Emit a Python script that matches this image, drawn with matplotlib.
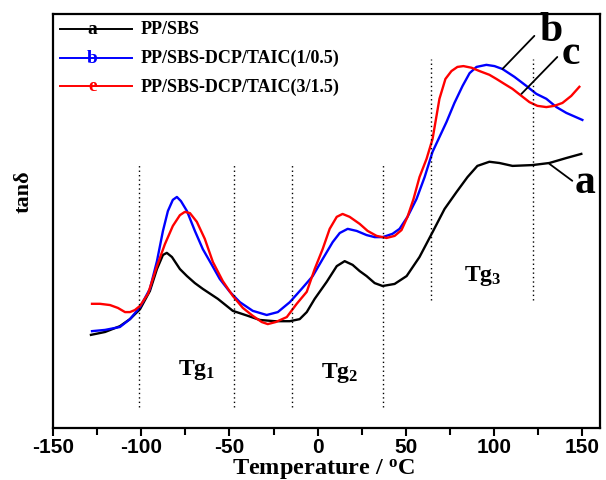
import matplotlib
matplotlib.use("Agg")
import matplotlib.pyplot as plt

plt.rcParams['font.family'] = ['Liberation Serif', 'DejaVu Serif']
plt.rcParams['mathtext.fontset'] = 'custom'
plt.rcParams['mathtext.rm'] = 'Liberation Serif:bold'
plt.rcParams['mathtext.bf'] = 'Liberation Serif:bold'
plt.rcParams['mathtext.it'] = 'Liberation Serif:bold'
plt.rcParams['axes.unicode_minus'] = False

# curve a: PP/SBS
temp_a = [-128.5, -120.5, -112.1, -106.4, -100.7, -95.1, -91.1, -87.7, -85.5, -82.6,
          -78.1, -74.1, -69.6, -65.1, -56.6, -48.1, -39.6, -32.8, -24.3, -15.8,
          -10.2, -6.2, -1.7, 5.1, 10.8, 15.3, 19.8, 23.8, 27.7, 32.3,
          36.8, 43.6, 50.4, 57.7, 65.1, 71.9, 78.7, 84.9, 90.5, 97.3,
          103.0, 110.4, 121.7, 131.3, 140.9, 149.4]
tan_a = [22.5, 23.2, 24.6, 26.3, 28.7, 33.1, 38.4, 41.8, 42.3, 41.3,
         38.4, 36.7, 35.0, 33.6, 31.2, 28.3, 27.1, 26.1, 25.8, 25.8,
         26.3, 28.0, 31.2, 35.3, 39.1, 40.3, 39.4, 37.9, 36.7, 35.0,
         34.3, 34.8, 36.7, 41.3, 47.3, 52.9, 57.0, 60.6, 63.3, 64.3,
         64.0, 63.3, 63.5, 64.0, 65.2, 66.2]

# curve b: PP/SBS-DCP/TAIC(1/0.5)
temp_b = [-127.9, -120.5, -112.1, -106.4, -100.7, -95.1, -91.1, -87.7, -84.9, -82.1,
          -79.8, -77.5, -74.1, -69.6, -65.1, -60.0, -55.5, -49.8, -44.1, -36.8,
          -28.9, -22.6, -15.8, -9.1, -2.8, 2.8, 8.5, 12.5, 17.0, 22.1,
          27.7, 32.3, 36.8, 42.4, 46.4, 50.9, 56.0, 60.6, 65.1, 73.0,
          77.5, 82.1, 86.1, 90.0, 95.6, 100.2, 104.7, 111.5, 118.3, 123.9,
          129.6, 135.3, 140.9, 150.0]
tan_b = [23.4, 23.7, 24.4, 26.3, 29.2, 33.6, 40.3, 47.6, 52.4, 55.1,
         55.8, 54.8, 52.4, 47.6, 43.2, 39.4, 36.0, 32.9, 30.4, 28.3,
         27.3, 28.0, 30.4, 33.6, 36.7, 40.8, 44.9, 47.1, 48.1, 47.6,
         46.6, 46.1, 46.1, 46.9, 48.1, 51.0, 55.3, 60.6, 66.7, 73.9,
         78.5, 82.6, 85.7, 87.2, 87.7, 87.4, 86.7, 84.8, 82.6, 80.7,
         79.5, 77.5, 76.1, 74.4]

# curve c: PP/SBS-DCP/TAIC(3/1.5)
temp_c = [-127.9, -123.4, -117.7, -113.2, -109.2, -106.4, -103.6, -100.7, -96.2, -91.1,
          -86.6, -82.1, -78.1, -75.3, -72.4, -68.5, -64.0, -59.4, -53.8, -48.1,
          -42.4, -36.8, -31.7, -28.3, -23.8, -17.5, -11.9, -6.2, -1.7, 2.8,
          6.8, 10.8, 14.1, 18.1, 23.8, 28.3, 33.4, 39.0, 43.6, 47.5,
          50.9, 54.3, 57.7, 61.7, 65.1, 69.0, 72.4, 75.8, 79.2, 82.6,
          87.2, 91.7, 97.3, 101.3, 105.8, 110.4, 115.5, 120.0, 124.5, 129.6,
          134.1, 138.7, 143.7, 148.3]
tan_c = [30.0, 30.0, 29.7, 29.0, 28.0, 28.0, 28.5, 29.5, 32.4, 39.1,
         44.4, 48.8, 51.4, 52.2, 51.9, 49.8, 45.7, 40.1, 35.5, 31.9,
         29.0, 27.1, 25.6, 25.1, 25.6, 26.8, 30.0, 32.9, 38.4, 43.2,
         48.1, 51.0, 51.7, 51.0, 49.3, 47.6, 46.4, 45.9, 46.4, 47.8,
         51.0, 55.3, 60.6, 65.0, 69.8, 79.5, 84.3, 86.2, 87.2, 87.4,
         87.0, 86.2, 85.3, 84.3, 83.1, 81.9, 80.2, 78.7, 77.8, 77.5,
         77.8, 78.5, 80.2, 82.4]

# dotted region boundaries and their vertical extent
sep_x = [-101, -47.7, -14.5, 37, 64.3, 121.8]
sep_lo = [5, 5, 5, 5, 31, 31]
sep_hi = [64, 64, 64, 64, 89, 89]

series = [("a", "PP/SBS", "black"),
          ("b", "PP/SBS-DCP/TAIC(1/0.5)", "blue"),
          ("e", "PP/SBS-DCP/TAIC(3/1.5)", "red")]

fig = plt.figure(figsize=(6.06, 4.81), dpi=100)
ax = fig.add_axes([0.0875, 0.108, 0.9026, 0.861])

ax.plot(temp_a, tan_a, color="black", lw=1.7)
ax.plot(temp_b, tan_b, color="blue", lw=1.7)
ax.plot(temp_c, tan_c, color="red", lw=1.7)

ax.vlines(sep_x, sep_lo, sep_hi, colors="black", linestyles=(0, (1, 2.2)), lw=1.0)

ax.set_xlim(-150, 160)
ax.set_ylim(0, 100)
ax.set_xticks([-150, -100, -50, 0, 50, 100, 150])
ax.set_xticks([-125, -75, -25, 25, 75, 125], minor=True)
ax.set_yticks([])
for lbl in ax.get_xticklabels():
    lbl.set_fontfamily("Liberation Sans")
    lbl.set_fontweight("bold")
ax.tick_params(axis="x", which="major", direction="out", length=6, width=1.5,
               labelsize=15, pad=0.5)
ax.tick_params(axis="x", which="minor", direction="out", length=5, width=1.5)
for sp in ax.spines.values():
    sp.set_linewidth(1.6)

ax.set_xlabel(r"Temperature / $^{\mathbf{o}}$C", fontsize=17.5, fontweight="bold")
ax.xaxis.set_label_coords(0.494, -0.068)
ax.set_ylabel("tanδ", fontsize=16, fontweight="bold")
ax.yaxis.set_label_coords(-0.036, 0.572)

# legend drawn by hand: line with letter on it, then the label
rows_y = [0.964, 0.894, 0.826]
for (letter, name, col), yy in zip(series, rows_y):
    ax.plot([0.013, 0.145], [yy, yy], transform=ax.transAxes, color=col, lw=1.4)
    ax.text(0.072, yy, letter, transform=ax.transAxes, color=col, fontsize=14,
            fontweight="bold", ha="center", va="center")
    ax.text(0.16, yy, name, transform=ax.transAxes, fontsize=13,
            fontweight="bold", ha="left", va="center")

# region labels
ax.text(-68.5, 14.3, r"$\mathbf{Tg_1}$", fontsize=17, ha="center", va="center")
ax.text(12.5, 13.5, r"$\mathbf{Tg_2}$", fontsize=17, ha="center", va="center")
ax.text(93.4, 37.0, r"$\mathbf{Tg_3}$", fontsize=17, ha="center", va="center")

# curve tags with leader lines
leader = dict(arrowstyle="-", color="black", lw=1.3, shrinkA=0, shrinkB=0)
ax.annotate("", xy=(104.7, 86.7), xytext=(122.8, 94.7), arrowprops=leader)
ax.annotate("", xy=(115.5, 80.7), xytext=(135.8, 89.6), arrowprops=leader)
ax.annotate("", xy=(131.3, 63.8), xytext=(144.3, 59.7), arrowprops=leader)
ax.text(132.0, 96.2, "b", fontsize=30, fontweight="bold", ha="center", va="center")
ax.text(143.5, 90.5, "c", fontsize=30, fontweight="bold", ha="center", va="center")
ax.text(151.5, 59.5, "a", fontsize=30, fontweight="bold", ha="center", va="center")

fig.savefig("out.png", dpi=100)
